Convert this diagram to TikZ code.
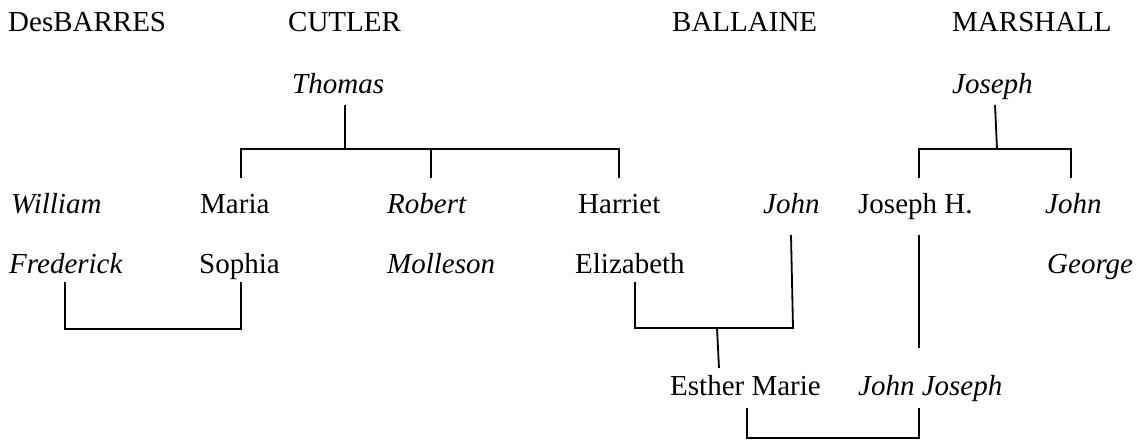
\documentclass[tikz,border=0pt]{standalone}
\usepackage{fontspec}
\setmainfont{Liberation Serif}
\usepackage{tikz}
\usetikzlibrary{positioning,calc}

\tikzset{
    person/.style={anchor=base west, inner sep=0pt, font=\fontsize{29}{34}\selectfont},
    personit/.style={person, font=\fontsize{29}{34}\selectfont\itshape},
    link/.style={line width=1.8pt, black}
}

\begin{document}
\begin{tikzpicture}[x=1pt, y=-1pt]
    \useasboundingbox (0,0) rectangle (1145,441);

    % Family names
    \node[person] (desbarres) at (8,32) {DesBARRES};
    \node[person] (cutler) at (288,32) {CUTLER};
    \node[person] (ballaine) at (672,32) {BALLAINE};
    \node[person] (marshall) at (952,32) {MARSHALL};

    % First generation
    \node[personit] (thomas) at (292,94) {Thomas};
    \node[personit] (joseph) at (952,94) {Joseph};

    % Second generation
    \node[personit] (william) at (11,213) {William};
    \node[person] (maria) at (200,213) {Maria};
    \node[personit] (robert) at (387,213) {Robert};
    \node[person] (harriet) at (578,213) {Harriet};
    \node[personit] (johnb) at (763,213) {John};
    \node[person] (josephh) at (858,213) {Joseph H.};
    \node[personit] (johnm) at (1045,213) {John};

    \node[personit] (frederick) at (9,273) {Frederick};
    \node[person] (sophia) at (199,273) {Sophia};
    \node[personit] (molleson) at (387,273) {Molleson};
    \node[person] (elizabeth) at (575,273) {Elizabeth};
    \node[personit] (george) at (1047,273) {George};

    % Third generation
    \node[person] (esther) at (670,395) {Esther Marie};
    \node[personit] (johnjoseph) at (858,395) {John Joseph};

    % Junction points
    \coordinate (thomasdown) at (345,105);
    \coordinate (thomasbar) at (345,149);
    \coordinate (mariaup) at (241,178);
    \coordinate (robertup) at (431,178);
    \coordinate (harrietup) at (619,178);
    \coordinate (josephdown) at (995,105);
    \coordinate (josephbar) at (997,149);
    \coordinate (josephhup) at (919,178);
    \coordinate (johnmup) at (1071,178);
    \coordinate (frederickdown) at (65,282);
    \coordinate (sophiadown) at (241,282);
    \coordinate (wedlock) at (329,329);
    \coordinate (elizabethdown) at (635,282);
    \coordinate (johnbdown) at (791,235);
    \coordinate (ballainebar) at (793,328);
    \coordinate (estherroot) at (717,328);
    \coordinate (estherup) at (719,368);
    \coordinate (josephhdown) at (919,235);
    \coordinate (johnjosephup) at (919,348);
    \coordinate (estherdown) at (747,408);
    \coordinate (johnjosephdown) at (919,408);

    % Cutler children
    \draw[link] (thomasdown) -- (thomasbar);
    \draw[link] (mariaup) |- (harrietup |- thomasbar) -- (harrietup);
    \draw[link] (robertup) -- (robertup |- thomasbar);

    % Marshall children
    \draw[link] (josephdown) -- (josephbar);
    \draw[link] (josephhup) |- (johnmup |- josephbar) -- (johnmup);

    % Marriages
    \draw[link] (frederickdown) -- (frederickdown |- wedlock) -- (sophiadown |- wedlock) -- (sophiadown);
    \draw[link] (elizabethdown) |- (ballainebar) -- (johnbdown);
    \draw[link] (estherroot) -- (estherup);
    \draw[link] (josephhdown) -- (johnjosephup);
    \draw[link] (estherdown) -- ++(0,30) -| (johnjosephdown);
\end{tikzpicture}
\end{document}
